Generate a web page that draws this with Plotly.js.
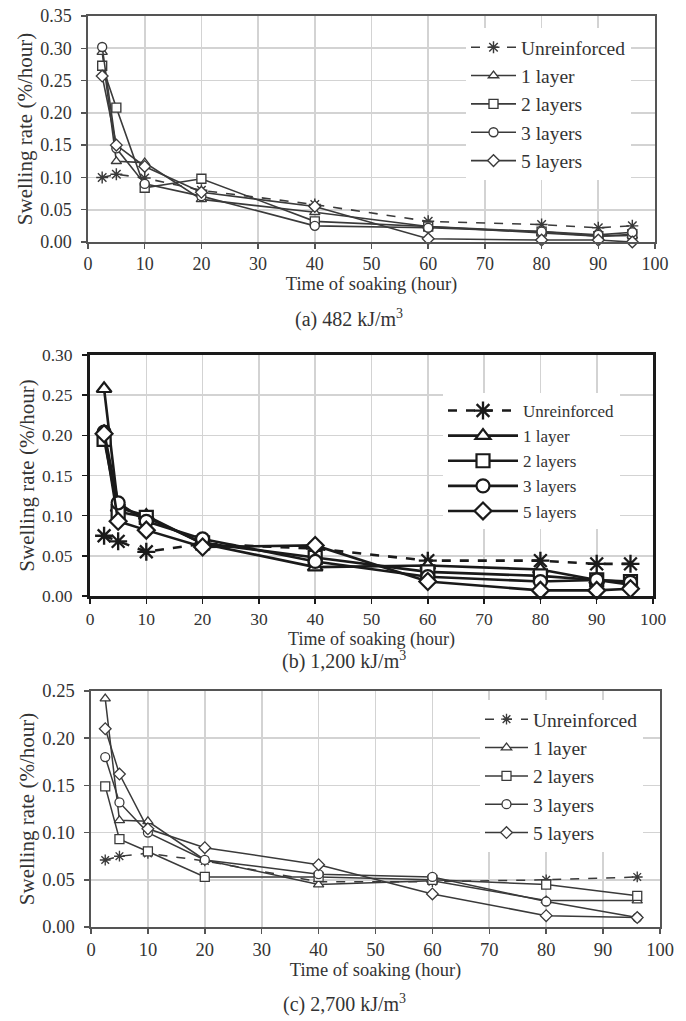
<!DOCTYPE html>
<html>
<head>
<meta charset="utf-8">
<script src="https://cdn.plot.ly/plotly-3.0.1.min.js"></script>
<style>
html,body{margin:0;padding:0;background:#fff;}
#chart{width:686px;height:1021px;}
</style>
</head>
<body>
<div id="chart"></div>
<script>
// ---- data ----
const seriesNames = ['Unreinforced', '1 layer', '2 layers', '3 layers', '5 layers'];
const hoursAB = [2.5, 5, 10, 20, 40, 60, 80, 90, 96];
const hoursC = [2.5, 5, 10, 20, 40, 60, 80, 96];

// (a) 482 kJ/m3
const a_unreinforced = [0.100, 0.105, 0.099, 0.080, 0.058, 0.032, 0.027, 0.022, 0.025];
const a_layer1 = [0.294, 0.125, 0.123, 0.066, 0.046, 0.024, 0.014, 0.009, 0.010];
const a_layer2 = [0.273, 0.208, 0.084, 0.098, 0.032, 0.024, 0.016, 0.009, 0.012];
const a_layer3 = [0.302, 0.145, 0.090, 0.071, 0.025, 0.022, 0.016, 0.011, 0.015];
const a_layer5 = [0.257, 0.150, 0.117, 0.077, 0.055, 0.005, 0.003, 0.003, 0.000];

// (b) 1,200 kJ/m3
const b_unreinforced = [0.075, 0.068, 0.055, 0.065, 0.059, 0.044, 0.044, 0.040, 0.040];
const b_layer1 = [0.258, 0.110, 0.100, 0.065, 0.036, 0.038, 0.033, 0.020, 0.014];
const b_layer2 = [0.195, 0.105, 0.098, 0.066, 0.048, 0.030, 0.025, 0.020, 0.018];
const b_layer3 = [0.204, 0.116, 0.093, 0.071, 0.043, 0.024, 0.018, 0.020, 0.017];
const b_layer5 = [0.202, 0.093, 0.082, 0.061, 0.063, 0.018, 0.007, 0.007, 0.009];

// (c) 2,700 kJ/m3
const c_unreinforced = [0.071, 0.075, 0.078, 0.070, 0.048, 0.048, 0.050, 0.053];
const c_layer1 = [0.242, 0.113, 0.112, 0.071, 0.045, 0.049, 0.028, 0.028];
const c_layer2 = [0.149, 0.093, 0.080, 0.053, 0.053, 0.050, 0.045, 0.033];
const c_layer3 = [0.180, 0.132, 0.100, 0.071, 0.056, 0.053, 0.027, 0.010];
const c_layer5 = [0.210, 0.162, 0.104, 0.084, 0.066, 0.035, 0.012, 0.010];

const xTitle = 'Time of soaking (hour)';
const yTitle = 'Swelling rate (%/hour)';
const captions = ['(a) 482 kJ/m<sup>3</sup>', '(b) 1,200 kJ/m<sup>3</sup>', '(c) 2,700 kJ/m<sup>3</sup>'];

// ---- styling ----
const FONT = '"Liberation Serif", "Times New Roman", Times, serif';
const TXT = '#333';
const symbols = ['asterisk-open', 'triangle-up', 'square', 'circle', 'diamond'];

const panels = [
  {x: hoursAB, ys: [a_unreinforced, a_layer1, a_layer2, a_layer3, a_layer5], ax: '', lg: 'legend',
   col: '#3a3a3a', lw: 1.6, ms: 9, msStar: 10},
  {x: hoursAB, ys: [b_unreinforced, b_layer1, b_layer2, b_layer3, b_layer5], ax: '2', lg: 'legend2',
   col: '#1a1a1a', lw: 2.6, ms: 13, msStar: 15},
  {x: hoursC, ys: [c_unreinforced, c_layer1, c_layer2, c_layer3, c_layer5], ax: '3', lg: 'legend3',
   col: '#3a3a3a', lw: 1.5, ms: 9, msStar: 9}
];

const traces = [];
panels.forEach(p => {
  p.ys.forEach((y, i) => {
    const star = i === 0;
    traces.push({
      type: 'scatter', mode: 'lines+markers',
      x: p.x, y: y, name: seriesNames[i],
      xaxis: 'x' + p.ax, yaxis: 'y' + p.ax, legend: p.lg,
      line: {color: p.col, width: p.lw, dash: star ? 'dash' : 'solid'},
      marker: {
        symbol: symbols[i], size: star ? p.msStar : p.ms,
        color: star ? p.col : '#ffffff',
        line: {color: p.col, width: star ? p.lw * 0.9 : p.lw * 0.85}
      },
      cliponaxis: false
    });
  });
});

function xa(anchor, domain, lineW, lineC, tickSize, titleSize, standoff) {
  return {
    anchor: anchor,
    domain: domain, range: [0, 100], tick0: 0, dtick: 10,
    showgrid: true, gridcolor: '#d3d3d3', gridwidth: 1.6,
    showline: true, linecolor: lineC, linewidth: lineW, mirror: true,
    ticks: 'outside', ticklen: 5, tickwidth: 1.5, tickcolor: lineC,
    zeroline: false,
    tickfont: {family: FONT, size: tickSize, color: TXT},
    title: {text: xTitle, font: {family: FONT, size: titleSize, color: TXT}, standoff: standoff}
  };
}
function ya(anchor, domain, range, lineW, lineC, tickSize, standoff) {
  return {
    anchor: anchor,
    domain: domain, range: range, dtick: 0.05, tick0: 0, tickformat: '.2f',
    showgrid: true, gridcolor: '#d3d3d3', gridwidth: 1.6,
    showline: true, linecolor: lineC, linewidth: lineW, mirror: true,
    ticks: 'outside', ticklen: 5, tickwidth: 1.5, tickcolor: lineC,
    ticklabelstandoff: 6,
    zeroline: false,
    tickfont: {family: FONT, size: tickSize, color: TXT},
    title: {text: yTitle, font: {family: FONT, size: 21, color: TXT}, standoff: standoff}
  };
}

const W = 686, H = 1021;
const px = v => v / W, py = v => 1 - v / H;

function legendCfg(left, top, size, iw) {
  return {
    x: px(left), y: py(top), xanchor: 'left', yanchor: 'top',
    bgcolor: '#ffffff', borderwidth: 0,
    font: {family: FONT, size: size, color: TXT},
    itemwidth: iw, tracegroupgap: 0
  };
}

const layout = {
  width: W, height: H,
  margin: {l: 0, r: 0, t: 0, b: 0},
  paper_bgcolor: '#ffffff', plot_bgcolor: '#ffffff',
  showlegend: true,
  font: {family: FONT, color: TXT},
  xaxis: xa('y', [px(88), px(655)], 1.6, '#555555', 18, 18.5, 4),
  yaxis: ya('x', [py(242), py(16)], [0, 0.35], 1.6, '#555555', 18, 2),
  xaxis2: xa('y2', [px(90), px(653)], 3, '#1a1a1a', 17.5, 18, 0),
  yaxis2: ya('x2', [py(596), py(355)], [0, 0.30], 3, '#1a1a1a', 17.5, 2),
  xaxis3: xa('y3', [px(91), px(660)], 1.6, '#555555', 18.5, 18.5, 4),
  yaxis3: ya('x3', [py(927), py(691)], [0, 0.25], 1.6, '#555555', 18.5, 2),
  legend: legendCfg(466, 28, 19.5, 45),
  legend2: legendCfg(443, 393, 17, 70),
  legend3: legendCfg(480, 700, 19.5, 43),
  annotations: [
    {text: captions[0], xref: 'paper', yref: 'paper', x: px(349), y: py(318), showarrow: false,
     xanchor: 'center', yanchor: 'middle', font: {family: FONT, size: 20, color: TXT}},
    {text: captions[1], xref: 'paper', yref: 'paper', x: px(344), y: py(660), showarrow: false,
     xanchor: 'center', yanchor: 'middle', font: {family: FONT, size: 20, color: TXT}},
    {text: captions[2], xref: 'paper', yref: 'paper', x: px(344), y: py(1003), showarrow: false,
     xanchor: 'center', yanchor: 'middle', font: {family: FONT, size: 20, color: TXT}}
  ]
};

Plotly.newPlot('chart', traces, layout, {displayModeBar: false, staticPlot: true});
</script>
</body>
</html>
